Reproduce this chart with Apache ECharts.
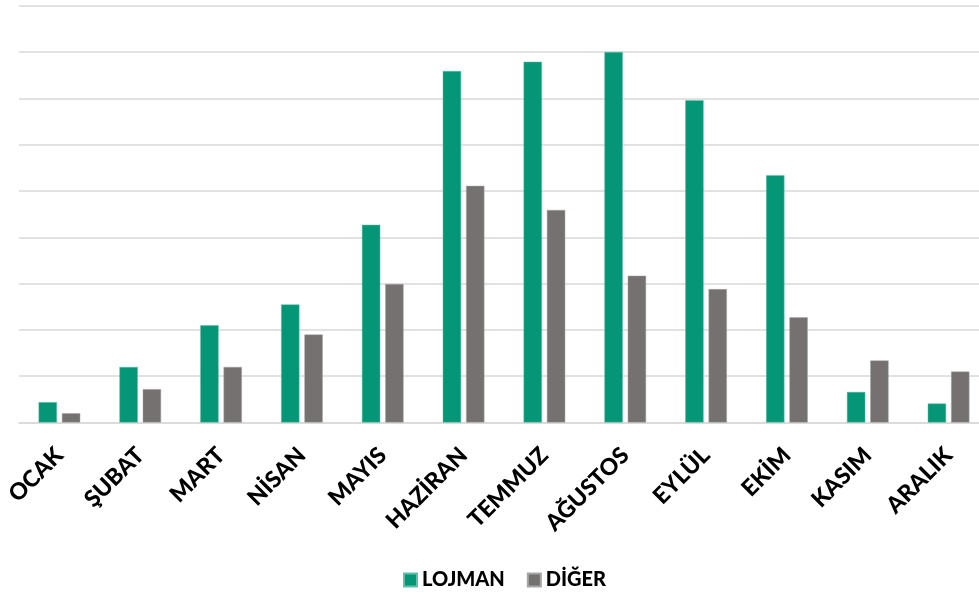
<!DOCTYPE html>
<html>
<head>
<meta charset="utf-8">
<script src="https://cdn.jsdelivr.net/npm/echarts@6/dist/echarts.min.js"></script>
<style>
html,body{margin:0;padding:0;background:#fff;overflow:hidden;width:979px;height:597px;}
#chart{width:990px;height:597px;}
</style>
</head>
<body>
<div id="chart"></div>
<script>
const categories = ['OCAK','ŞUBAT','MART','NİSAN','MAYIS','HAZİRAN','TEMMUZ','AĞUSTOS','EYLÜL','EKİM','KASIM','ARALIK'];
const lojman = [4.4, 12.0, 21.0, 25.5, 42.7, 75.9, 77.9, 80.0, 69.6, 53.4, 6.6, 4.1];
const diger  = [2.0, 7.2, 12.0, 19.0, 29.9, 51.1, 45.9, 31.7, 28.8, 22.7, 13.4, 11.0];
const seriesNames = ['LOJMAN', 'DİĞER'];

const chart = echarts.init(document.getElementById('chart'));
const font = 'Lato, "Open Sans", sans-serif';
chart.setOption({
  animation: false,
  backgroundColor: '#ffffff',
  grid: { left: 19, right: 1, top: 5.7, height: 416.8, containLabel: false },
  legend: {
    data: seriesNames,
    top: 570,
    left: 403,
    padding: 0,
    itemWidth: 13,
    itemHeight: 13,
    itemGap: 22,
    icon: 'rect',
    textStyle: { fontFamily: font, fontWeight: 900, fontSize: 20, color: '#000' }
  },
  xAxis: {
    type: 'category',
    data: categories,
    axisTick: { show: false },
    axisLine: { lineStyle: { color: '#d9d9d9', width: 1.5 } },
    axisLabel: {
      rotate: 45,
      margin: 29,
      interval: 0,
      fontFamily: font,
      fontWeight: 900,
      fontSize: 23,
      color: '#000'
    }
  },
  yAxis: {
    type: 'value',
    min: 0,
    max: 90,
    interval: 10,
    axisLabel: { show: false },
    axisLine: { show: false },
    axisTick: { show: false },
    splitLine: { lineStyle: { color: '#d9d9d9', width: 1.5 } }
  },
  series: [
    {
      name: seriesNames[0],
      type: 'bar',
      data: lojman,
      barWidth: '22.7%',
      barGap: '27%',
      itemStyle: { color: '#049676', borderColor: '#5fc0a8', borderWidth: 0.5 }
    },
    {
      name: seriesNames[1],
      type: 'bar',
      data: diger,
      barWidth: '22.7%',
      itemStyle: { color: '#767171', borderColor: '#a9a5a5', borderWidth: 0.5 }
    }
  ]
});
</script>
</body>
</html>
